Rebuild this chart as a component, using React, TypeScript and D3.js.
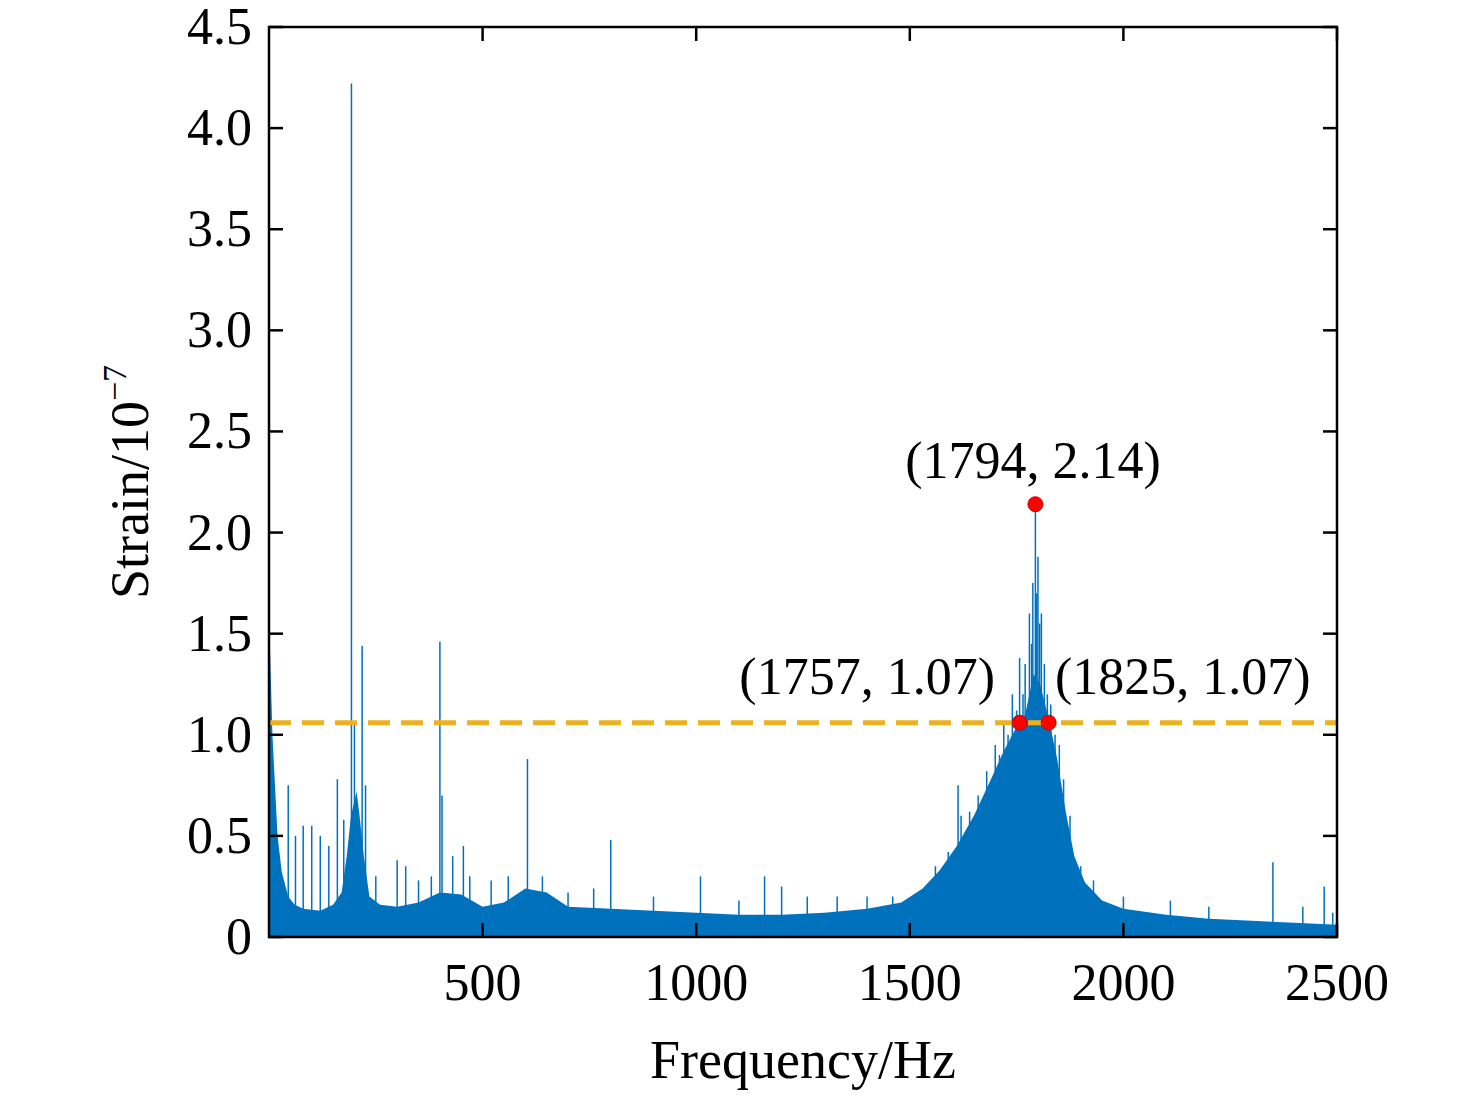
import React from "react";
import * as d3 from "d3";

// upper envelope of the dense spectrum [Hz, strain]
const envelope: [number, number][] = [
  [0, 1.6], [4, 1.3], [8, 1.0], [14, 0.75], [20, 0.5], [30, 0.32], [45, 0.2], [60, 0.16], [80, 0.14],
  [120, 0.13], [150, 0.16], [170, 0.22], [182, 0.4], [192, 0.6], [205, 0.72], [212, 0.6], [222, 0.4],
  [235, 0.2], [260, 0.16], [300, 0.15], [350, 0.17], [400, 0.22], [450, 0.21], [500, 0.15], [550, 0.17],
  [600, 0.24], [650, 0.22], [700, 0.15], [800, 0.14], [900, 0.13], [1000, 0.12], [1100, 0.11], [1200, 0.11],
  [1300, 0.12], [1400, 0.14], [1480, 0.17], [1530, 0.24], [1570, 0.33], [1610, 0.45], [1650, 0.6],
  [1690, 0.78], [1720, 0.92], [1745, 1.02], [1770, 1.1], [1790, 1.3], [1805, 1.25], [1825, 1.08],
  [1845, 0.88], [1865, 0.62], [1885, 0.4], [1910, 0.27], [1950, 0.18], [2000, 0.14], [2100, 0.11],
  [2200, 0.09], [2300, 0.08], [2400, 0.07], [2500, 0.06],
];

// narrow peaks rising above the envelope [Hz, strain]
const spikes: [number, number][] = [
  [45, 0.75], [62, 0.5], [80, 0.55], [100, 0.55], [120, 0.5], [140, 0.45], [160, 0.78], [175, 0.58],
  [193, 4.22], [200, 1.05], [218, 1.44], [226, 0.75], [250, 0.3], [300, 0.38], [320, 0.35], [350, 0.28],
  [380, 0.3], [400, 1.46], [405, 0.7], [430, 0.4], [455, 0.45], [470, 0.3], [520, 0.28], [560, 0.3],
  [605, 0.88], [640, 0.3], [700, 0.22], [760, 0.24], [800, 0.48], [900, 0.2], [1010, 0.3], [1100, 0.18],
  [1160, 0.3], [1200, 0.25], [1260, 0.2], [1330, 0.2], [1400, 0.2], [1460, 0.2], [1560, 0.35], [1590, 0.42],
  [1613, 0.75], [1620, 0.6], [1640, 0.62], [1660, 0.7], [1680, 0.82], [1700, 0.95], [1710, 0.9],
  [1720, 1.05], [1730, 1.0], [1740, 1.2], [1750, 1.12], [1757, 1.38], [1765, 1.2], [1770, 1.35],
  [1780, 1.6], [1785, 1.45], [1788, 1.75], [1794, 2.14], [1797, 1.7], [1800, 1.88], [1804, 1.55],
  [1808, 1.6], [1815, 1.35], [1822, 1.2], [1830, 1.15], [1840, 1.0], [1850, 0.95], [1860, 0.78],
  [1875, 0.6], [1900, 0.35], [1930, 0.28], [2000, 0.2], [2110, 0.18], [2200, 0.15], [2350, 0.37],
  [2420, 0.15], [2470, 0.25], [2490, 0.12],
];

const markers: [number, number][] = [[1757, 1.06], [1794, 2.14], [1825, 1.06]];
const markerLabels = ["(1757, 1.07)", "(1794, 2.14)", "(1825, 1.07)"];
const threshold = 1.06;
const xTicks = [500, 1000, 1500, 2000, 2500];
const yTicks = [0, 0.5, 1, 1.5, 2, 2.5, 3, 3.5, 4, 4.5];

export default function App() {
  const W = 1476, H = 1097;
  const m = { left: 269, right: 1337, top: 27, bottom: 937 };
  const x = d3.scaleLinear().domain([0, 2500]).range([m.left, m.right]);
  const y = d3.scaleLinear().domain([0, 4.5]).range([m.bottom, m.top]);
  const area = d3.area<[number, number]>().x(d => x(d[0])).y0(y(0)).y1(d => y(d[1]));
  const font = "'Liberation Serif', 'Times New Roman', serif";
  const blue = "#0072BD";
  const fs = 52;
  const labelPos: [number, number, string][] = [[995, 694, "end"], [1033, 478, "middle"], [1055, 694, "start"]];
  return (
    <svg width={W} height={H} style={{ position: "absolute", left: 0, top: 0, background: "#fff" }} fontFamily={font}>
      <path d={area(envelope) || ""} fill={blue} />
      {spikes.map((s, i) => (
        <line key={i} x1={x(s[0])} x2={x(s[0])} y1={y(0)} y2={y(s[1])} stroke={blue} strokeWidth={1.5} />
      ))}
      <line x1={m.left} x2={m.right} y1={y(threshold)} y2={y(threshold)} stroke="#EDB120" strokeWidth={5} strokeDasharray="22 11" />
      {markers.map((p, i) => (
        <circle key={i} cx={x(p[0])} cy={y(p[1])} r={7.5} fill="#FF0000" stroke="#c00" strokeWidth={1} />
      ))}
      {markerLabels.map((t, i) => (
        <text key={t} x={labelPos[i][0]} y={labelPos[i][1]} fontSize={fs} textAnchor={labelPos[i][2] as any}>{t}</text>
      ))}
      <rect x={m.left} y={m.top} width={m.right - m.left} height={m.bottom - m.top} fill="none" stroke="#000" strokeWidth={2.5} />
      {yTicks.map(t => (
        <g key={t}>
          <line x1={m.left} x2={m.left + 14} y1={y(t)} y2={y(t)} stroke="#000" strokeWidth={2.5} />
          <line x1={m.right} x2={m.right - 14} y1={y(t)} y2={y(t)} stroke="#000" strokeWidth={2.5} />
          <text x={m.left - 17} y={y(t) + 17} fontSize={fs} textAnchor="end">{t === 0 ? "0" : t.toFixed(1)}</text>
        </g>
      ))}
      {xTicks.map(t => (
        <g key={t}>
          <line x1={x(t)} x2={x(t)} y1={m.bottom} y2={m.bottom - 14} stroke="#000" strokeWidth={2.5} />
          <line x1={x(t)} x2={x(t)} y1={m.top} y2={m.top + 14} stroke="#000" strokeWidth={2.5} />
          <text x={x(t)} y={1000} fontSize={fs} textAnchor="middle">{t}</text>
        </g>
      ))}
      <text x={803} y={1078} fontSize={54} textAnchor="middle">Frequency/Hz</text>
      <text transform="translate(148,482) rotate(-90)" fontSize={54} textAnchor="middle">
        Strain/10<tspan dy={-22} fontSize={34}>−7</tspan>
      </text>
    </svg>
  );
}
